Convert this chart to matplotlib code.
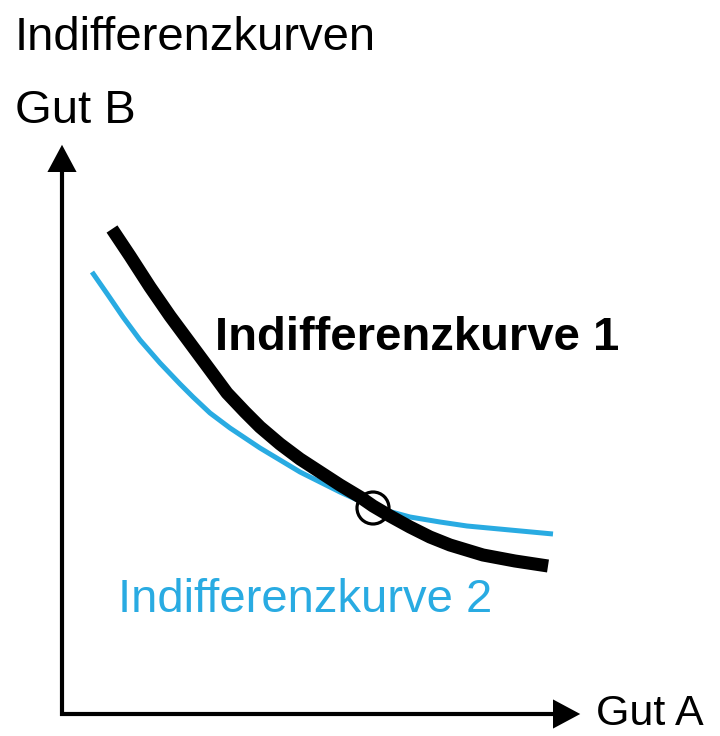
import matplotlib
matplotlib.use("Agg")
import matplotlib.pyplot as plt
from matplotlib.patches import Circle, FancyArrowPatch

plt.rcParams['font.family'] = ['Liberation Sans', 'DejaVu Sans']

# curves (pixel space, y grows downward)
kurve1_x = [112, 130, 150, 170, 190, 210, 227, 245, 260, 280, 300, 320, 340, 360, 373, 390, 410, 430, 450, 483, 515, 548]
kurve1_y = [229, 256, 287, 316, 343, 370, 393, 412, 427, 444, 459, 472, 485, 497, 506, 516, 527, 537, 545, 555, 561, 566]
kurve2_x = [92, 108, 123, 140, 160, 180, 193, 210, 230, 260, 300, 340, 373, 410, 440, 467, 510, 553]
kurve2_y = [272, 295, 317, 340, 363, 384, 397, 413, 428, 448, 472, 492, 507, 517, 522, 526, 530, 534]
schnitt = (373, 508)

blau = "#29abe2"

fig = plt.figure(figsize=(7.2, 7.36), dpi=100)
ax = fig.add_axes([0, 0, 1, 1])
ax.set_xlim(0, 720)
ax.set_ylim(736, 0)
ax.axis("off")

# axes with arrows
ax.plot([62, 62], [716, 160], color="black", lw=3, solid_capstyle="butt")
ax.plot([60, 565], [714, 714], color="black", lw=3, solid_capstyle="butt")
ax.add_patch(FancyArrowPatch((62, 170), (62, 142), arrowstyle="-|>,head_length=1.4,head_width=0.75",
                             mutation_scale=14, color="black", lw=0))
ax.add_patch(FancyArrowPatch((560, 714), (583, 714), arrowstyle="-|>,head_length=1.4,head_width=0.75",
                             mutation_scale=14, color="black", lw=0))

ax.plot(kurve2_x, kurve2_y, color=blau, lw=3.6, solid_capstyle="butt", solid_joinstyle="round")
ax.plot(kurve1_x, kurve1_y, color="black", lw=9.4, solid_capstyle="butt", solid_joinstyle="round")
ax.add_patch(Circle(schnitt, 16, fill=False, edgecolor="black", lw=2.3, zorder=5))

ax.text(15, 50, "Indifferenzkurven", fontsize=34, va="baseline", ha="left")
ax.text(15, 123, "Gut B", fontsize=34, va="baseline", ha="left")
ax.text(596, 725, "Gut A", fontsize=31, va="baseline", ha="left")
ax.text(215, 350, "Indifferenzkurve 1", fontsize=34, fontweight="bold", va="baseline", ha="left")
ax.text(118, 612, "Indifferenzkurve 2", fontsize=34, color=blau, va="baseline", ha="left")

fig.savefig("out.png", dpi=100)
